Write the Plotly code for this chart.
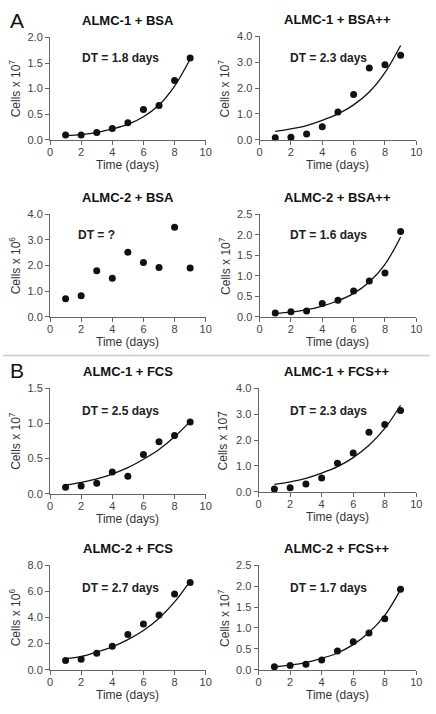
import plotly.graph_objects as go

W, H = 436, 714

days = [1, 2, 3, 4, 5, 6, 7, 8, 9]

titles = ["ALMC-1 + BSA", "ALMC-1 + BSA++", "ALMC-2 + BSA", "ALMC-2 + BSA++",
          "ALMC-1 + FCS", "ALMC-1 + FCS++", "ALMC-2 + FCS", "ALMC-2 + FCS++"]
dt_labels = ["DT = 1.8 days", "DT = 2.3 days", "DT = ?", "DT = 1.6 days",
             "DT = 2.5 days", "DT = 2.3 days", "DT = 2.7 days", "DT = 1.7 days"]
ylabels = ["Cells x 10<sup>7</sup>", "Cells x 10<sup>7</sup>", "Cells x 10<sup>6</sup>",
           "Cells x 10<sup>7</sup>", "Cells x 10<sup>7</sup>", "Cells x 107",
           "Cells x 10<sup>6</sup>", "Cells x 10<sup>7</sup>"]
ymax = [2.0, 4.0, 4.0, 2.5, 1.5, 4.0, 8.0, 2.5]
ydtick = [0.5, 1.0, 1.0, 0.5, 0.5, 1.0, 2.0, 0.5]

# measured cell counts
pts_bsa1 = [0.09, 0.09, 0.14, 0.22, 0.33, 0.59, 0.67, 1.16, 1.60]
pts_bsa1pp = [0.08, 0.10, 0.22, 0.50, 1.07, 1.75, 2.78, 2.90, 3.27]
pts_bsa2 = [0.70, 0.82, 1.80, 1.50, 2.52, 2.12, 1.92, 3.50, 1.90]
pts_bsa2pp = [0.09, 0.12, 0.14, 0.32, 0.40, 0.63, 0.87, 1.07, 2.08]
pts_fcs1 = [0.09, 0.11, 0.15, 0.31, 0.25, 0.56, 0.74, 0.83, 1.02]
pts_fcs1pp = [0.10, 0.15, 0.30, 0.53, 1.10, 1.50, 2.30, 2.60, 3.15]
pts_fcs2 = [0.70, 0.80, 1.25, 1.80, 2.70, 3.50, 4.20, 5.80, 6.70]
pts_fcs2pp = [0.07, 0.10, 0.13, 0.23, 0.45, 0.67, 0.88, 1.22, 1.93]

# fitted growth curves
fit_bsa1 = [0.08, 0.10, 0.14, 0.21, 0.30, 0.45, 0.68, 1.05, 1.58]
fit_bsa1pp = [0.32, 0.42, 0.55, 0.75, 1.00, 1.35, 1.85, 2.60, 3.65]
fit_bsa2 = None
fit_bsa2pp = [0.08, 0.11, 0.17, 0.26, 0.39, 0.57, 0.85, 1.28, 1.95]
fit_fcs1 = [0.12, 0.16, 0.21, 0.28, 0.37, 0.49, 0.63, 0.81, 1.03]
fit_fcs1pp = [0.28, 0.38, 0.52, 0.72, 0.97, 1.32, 1.80, 2.45, 3.35]
fit_fcs2 = [0.85, 1.00, 1.35, 1.75, 2.30, 3.00, 3.95, 5.20, 6.80]
fit_fcs2pp = [0.07, 0.11, 0.17, 0.27, 0.40, 0.60, 0.89, 1.30, 1.92]

points = [pts_bsa1, pts_bsa1pp, pts_bsa2, pts_bsa2pp, pts_fcs1, pts_fcs1pp, pts_fcs2, pts_fcs2pp]
fits = [fit_bsa1, fit_bsa1pp, fit_bsa2, fit_bsa2pp, fit_fcs1, fit_fcs1pp, fit_fcs2, fit_fcs2pp]

# DT label anchor (data coords)
dt_x = [1.95, 1.8, 1.65, 1.8, 1.95, 1.85, 1.95, 1.85]
dt_y = [1.6, 3.16, 3.19, 2.0, 1.18, 3.12, 6.26, 1.96]

# pixel boxes: left, right, top, bottom
boxes = [(48, 207, 32, 136), (262, 422, 31, 136),
         (48, 207, 212, 316), (262, 422, 212, 316),
         (48, 207, 389, 496), (261, 422, 389, 494),
         (48, 207, 569, 675), (261, 422, 569, 675)]


def px(x):
    return x / W


def py(y):
    return 1 - y / H


FONT = "Liberation Sans, Arial, sans-serif"
fig = go.Figure()
annotations = []
layout = {}
for i in range(8):
    n = i + 1
    xa = "x" if n == 1 else f"x{n}"
    ya = "y" if n == 1 else f"y{n}"
    l, r, t, b = boxes[i]
    layout["xaxis" if n == 1 else f"xaxis{n}"] = dict(
        domain=[px(l), px(r)], range=[0, 10], anchor=ya,
        tickvals=[0, 2, 4, 6, 8, 10], showline=True, linecolor="#666", linewidth=1,
        ticks="outside", ticklen=4, tickcolor="#666", showgrid=False, zeroline=False,
        ticklabelstandoff=-2,
        tickfont=dict(family=FONT, size=11, color="#444"), fixedrange=True)
    layout["yaxis" if n == 1 else f"yaxis{n}"] = dict(
        domain=[py(b), py(t)], range=[0, ymax[i]], anchor=xa,
        dtick=ydtick[i], tick0=0, tickformat=".1f", showline=True, linecolor="#666", linewidth=1,
        ticks="outside", ticklen=4, tickcolor="#666", showgrid=False, zeroline=False,
        tickfont=dict(family=FONT, size=11, color="#444"), fixedrange=True)
    if fits[i] is not None:
        fig.add_trace(go.Scatter(x=days, y=fits[i], mode="lines", line=dict(color="#111", width=1.3, shape="spline"),
                                 xaxis=xa, yaxis=ya, showlegend=False, hoverinfo="skip"))
    fig.add_trace(go.Scatter(x=days, y=points[i], mode="markers", marker=dict(color="#111", size=7),
                             xaxis=xa, yaxis=ya, showlegend=False, cliponaxis=False))
    cx = (l + r) / 2
    annotations.append(dict(text=f"<b>{titles[i]}</b>", x=px(cx), y=py(t - 17), xref="paper", yref="paper",
                            xanchor="center", yanchor="middle", showarrow=False,
                            font=dict(family=FONT, size=13, color="#111")))
    annotations.append(dict(text=f"<b>{dt_labels[i]}</b>", x=dt_x[i], y=dt_y[i], xref=xa, yref=ya,
                            xanchor="left", yanchor="middle", showarrow=False,
                            font=dict(family=FONT, size=12, color="#222")))
    annotations.append(dict(text="Time (days)", x=px(cx), y=py(b + 26), xref="paper", yref="paper",
                            xanchor="center", yanchor="middle", showarrow=False,
                            font=dict(family=FONT, size=12, color="#333")))
    annotations.append(dict(text=ylabels[i], x=px(l - 36), y=py((t + b) / 2), xref="paper", yref="paper",
                            xanchor="center", yanchor="middle", showarrow=False, textangle=-90,
                            font=dict(family=FONT, size=12, color="#333")))

annotations.append(dict(text="A", x=px(5), y=py(15), xref="paper", yref="paper", xanchor="left",
                        yanchor="middle", showarrow=False, font=dict(family=FONT, size=21, color="#111")))
annotations.append(dict(text="B", x=px(5), y=py(371), xref="paper", yref="paper", xanchor="left",
                        yanchor="middle", showarrow=False, font=dict(family=FONT, size=21, color="#111")))

fig.update_layout(width=W, height=H, margin=dict(l=0, r=0, t=0, b=0),
                  paper_bgcolor="white", plot_bgcolor="white",
                  annotations=annotations,
                  shapes=[dict(type="line", xref="paper", yref="paper", x0=0, x1=1,
                               y0=py(355.5), y1=py(355.5), line=dict(color="#cccccc", width=1.5))],
                  **layout)
fig.write_html("out.html", config={"displayModeBar": False},
               post_script="document.body.style.margin='0';document.body.style.padding='0';document.body.style.overflow='hidden';")
